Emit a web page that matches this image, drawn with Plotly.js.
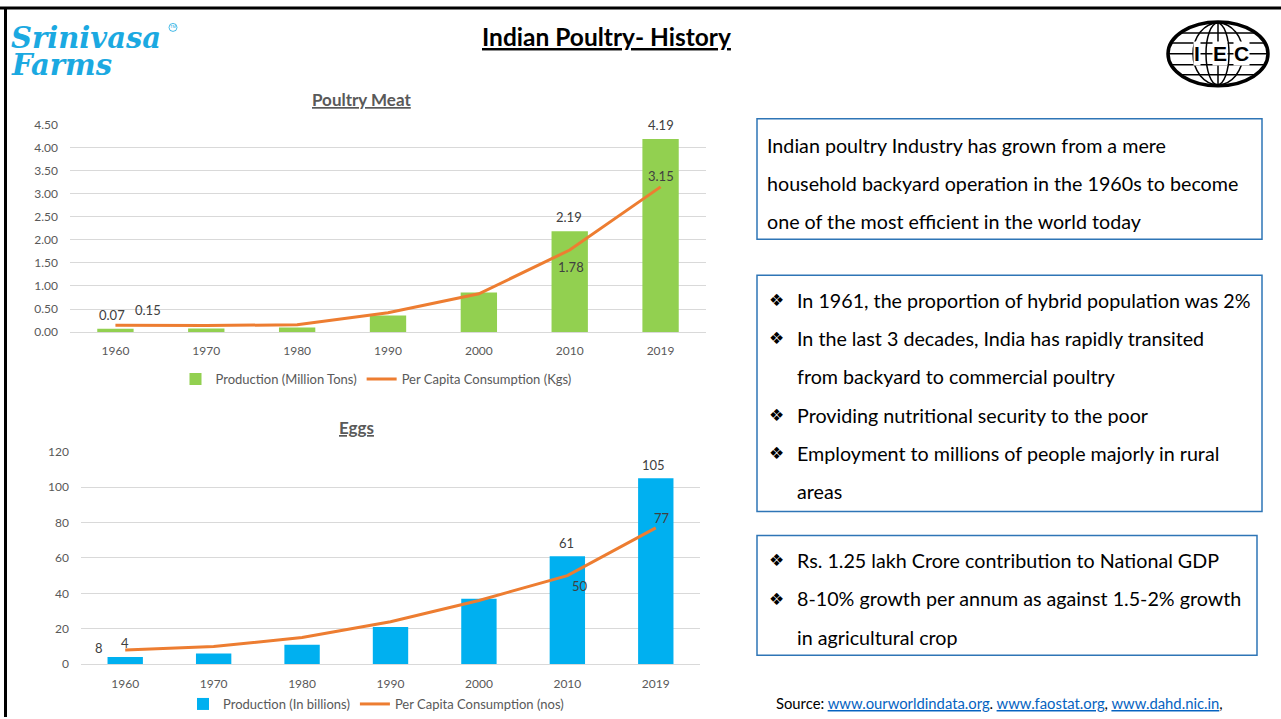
<!DOCTYPE html>
<html>
<head>
<meta charset="utf-8">
<script src="https://cdn.plot.ly/plotly-3.0.1.min.js"></script>
<style>
html,body{margin:0;padding:0;background:#fff;overflow:hidden;}
#chart{width:1281px;height:719px;}
</style>
</head>
<body>
<div id="chart"></div>
<script>
// ---------- DATA ----------
const years = ['1960','1970','1980','1990','2000','2010','2019'];
const meatProduction = [0.07, 0.08, 0.10, 0.36, 0.86, 2.19, 4.19];      // Million Tons
const meatPerCapita  = [0.15, 0.14, 0.16, 0.42, 0.83, 1.78, 3.15];      // Kgs
const eggProduction  = [4, 6, 11, 21, 37, 61, 105];                       // billions
const eggPerCapita   = [8, 10, 15, 24, 36, 50, 77];                       // nos
// which points carry a data label
const meatBarLabelIdx  = [0, 5, 6];
const meatLineLabelIdx = [0, 5, 6];
const eggBarLabelIdx   = [0, 5, 6];
const eggLineLabelIdx  = [0, 5, 6];

const meatSeriesNames = ['Production (Million Tons)', 'Per Capita Consumption (Kgs)'];
const eggSeriesNames  = ['Production (In billions)', 'Per Capita Consumption (nos)'];

const pageTitle = 'Indian Poultry- History';
const meatTitle = 'Poultry Meat';
const eggTitle  = 'Eggs';
const box1Lines = [
  'Indian poultry Industry has grown from a mere',
  'household backyard operation in the 1960s to become',
  'one of the most efficient in the world today'
];
const box2Lines = [
  ['❖', 'In 1961, the proportion of hybrid population was 2%'],
  ['❖', 'In the last 3 decades, India has rapidly transited'],
  ['',  'from backyard to commercial poultry'],
  ['❖', 'Providing nutritional security to the poor'],
  ['❖', 'Employment to millions of people majorly in rural'],
  ['',  'areas']
];
const box3Lines = [
  ['❖', 'Rs. 1.25 lakh Crore contribution to National GDP'],
  ['❖', '8-10% growth per annum as against 1.5-2% growth'],
  ['',  'in agricultural crop']
];
const sourceLinks = ['www.ourworldindata.org', 'www.faostat.org', 'www.dahd.nic.in'];

// ---------- STYLE ----------
const W = 1281, H = 719;
const px = x => x / W;
const py = y => 1 - y / H;
const FONT = 'Lato, "Open Sans", sans-serif';
const GREEN = '#92D050', BLUE = '#00B0F0', ORANGE = '#ED7D31';
const GRID = '#D9D9D9', AXTXT = '#595959', LBL = '#404040';
const BOXC = '#2E75B6';
const BODY = 19.7;

const traces = [
  {type:'bar', x: years, y: meatProduction, name: meatSeriesNames[0], marker:{color: GREEN},
   xaxis:'x', yaxis:'y', legend:'legend', hoverinfo:'skip'},
  {type:'scatter', mode:'lines', x: years, y: meatPerCapita, name: meatSeriesNames[1],
   line:{color: ORANGE, width: 3}, xaxis:'x', yaxis:'y', legend:'legend', hoverinfo:'skip'},
  {type:'bar', x: years, y: eggProduction, name: eggSeriesNames[0], marker:{color: BLUE},
   xaxis:'x2', yaxis:'y2', legend:'legend2', hoverinfo:'skip'},
  {type:'scatter', mode:'lines', x: years, y: eggPerCapita, name: eggSeriesNames[1],
   line:{color: ORANGE, width: 3}, xaxis:'x2', yaxis:'y2', legend:'legend2', hoverinfo:'skip'}
];

const ann = [];
function txt(x, y, text, opt) {
  ann.push(Object.assign({xref:'paper', yref:'paper', x: px(x), y: py(y), text: text,
    showarrow:false, xanchor:'left', yanchor:'middle',
    font:{family: FONT, size: BODY, color:'#000'}}, opt || {}));
}
// data labels from arrays (x given as category index)
function dataLabels(xa, ya, vals, idxs, fmt, shifts) {
  idxs.forEach((i, k) => {
    ann.push({xref: xa, yref: ya, x: i, y: vals[i], text: fmt(vals[i]), showarrow:false,
      xanchor:'center', yanchor:'middle', xshift: shifts[k][0], yshift: shifts[k][1],
      font:{family: FONT, size: 13, color: LBL}});
  });
}
const f2 = v => v.toFixed(2);
const f0 = v => String(Math.round(v));
dataLabels('x', 'y', meatProduction, meatBarLabelIdx, f2, [[-3,14],[-1,14],[0,14]]);
dataLabels('x', 'y', meatPerCapita, meatLineLabelIdx, f2, [[33,15],[1,-17],[0,11]]);
dataLabels('x2', 'y2', eggProduction, eggBarLabelIdx, f0, [[0,14],[-1,13],[-2,13]]);
dataLabels('x2', 'y2', eggPerCapita, eggLineLabelIdx, f0, [[-26,2],[13,-10],[6,10]]);

// titles
txt(606, 37, '<b><u>' + pageTitle + '</u></b>', {xanchor:'center', font:{family: FONT, size: 24.5, color:'#000'}});
txt(361, 100, '<b><u>' + meatTitle + '</u></b>', {xanchor:'center', font:{family: FONT, size: 17, color: AXTXT}});
txt(357, 429, '<b><u>' + eggTitle + '</u></b>', {xanchor:'center', font:{family: FONT, size: 17, color: AXTXT}});

// logo Srinivasa Farms
txt(9, 38, '<b><i>Srinivasa</i></b>', {height: 26, font:{family:'"DejaVu Serif", serif', size: 29, color:'#1BA9E1'}});
txt(9, 65, '<b><i>Farms</i></b>', {height: 26, font:{family:'"DejaVu Serif", serif', size: 29, color:'#1BA9E1'}});
txt(173, 27, 'TM', {xanchor:'center', font:{family:'Liberation Sans', size: 4, color:'#1BA9E1'}});

// text boxes
box1Lines.forEach((t, i) => txt(765, 146 + i * 38.3, t));
box2Lines.forEach((t, i) => {
  if (t[0]) txt(776, 301 + i * 38.4, t[0], {xanchor:'center', font:{family:'"DejaVu Sans"', size: 17, color:'#000'}});
  txt(795, 301 + i * 38.4, t[1]);
});
box3Lines.forEach((t, i) => {
  if (t[0]) txt(776, 562 + i * 38.5, t[0], {xanchor:'center', font:{family:'"DejaVu Sans"', size: 17, color:'#000'}});
  txt(795, 562 + i * 38.5, t[1]);
});
// source
const link = s => "<span style='color:#0563C1'><u>" + s + "</u></span>";
txt(774, 705, 'Source: ' + link(sourceLinks[0]) + '. ' + link(sourceLinks[1]) + ', ' + link(sourceLinks[2]) + ',',
  {font:{family: FONT, size: 14.8, color:'#000'}});

// IEC logo letters
[['I',1197],['E',1220],['C',1241]].forEach(l => {
  txt(l[1], 54, '<b>' + l[0] + '</b>', {xanchor:'center', bgcolor:'#fff', borderpad:0,
    font:{family:'"Liberation Sans", Arial', size: 21, color:'#000'}});
});

const shapes = [];
function line(x0, y0, x1, y1, color, width) {
  shapes.push({type:'line', xref:'paper', yref:'paper', x0: px(x0), y0: py(y0), x1: px(x1), y1: py(y1),
    line:{color: color, width: width}, layer:'below'});
}
function rect(x0, y0, x1, y1, color, width, fill) {
  shapes.push({type:'rect', xref:'paper', yref:'paper', x0: px(x0), y0: py(y0), x1: px(x1), y1: py(y1),
    line:{color: color, width: width}, fillcolor: fill || 'rgba(0,0,0,0)', layer:'below'});
}
function ell(x0, y0, x1, y1, color, width) {
  shapes.push({type:'circle', xref:'paper', yref:'paper', x0: px(x0), y0: py(y0), x1: px(x1), y1: py(y1),
    line:{color: color, width: width}, layer:'below'});
}
// page frame
line(0, 8, W, 8, '#000', 3);
line(5.5, 7, 5.5, H, '#000', 3);
// text boxes
rect(757, 119, 1262, 240, BOXC, 1.5);
rect(757, 276, 1262, 513, BOXC, 1.5);
rect(757, 537, 1257, 657, BOXC, 1.5);
// TM mark circle
ell(169, 23.5, 177, 31.5, '#1BA9E1', 0.8);
// IEC globe
ell(1168, 22, 1268, 86, '#000', 3.5);
ell(1193, 23, 1243, 85, '#000', 1.5);
ell(1206, 23, 1229, 85, '#000', 1.5);
line(1218, 23, 1218, 85, '#000', 1.5);
[[33,37.7],[43,46.9],[54,50],[65,46.9],[75,37.7]].forEach(h => line(1218 - h[1], h[0], 1218 + h[1], h[0], '#000', 1.5));

const axisCommon = {
  type:'category', range:[-0.5, years.length - 0.5], autorange:false,
  showgrid:false, zeroline:false, showline:true, linecolor: GRID, linewidth:1,
  ticks:'', tickfont:{family: FONT, size: 12, color: AXTXT}, ticklabelstandoff: 8, fixedrange:true
};
const yCommon = {
  showgrid:true, gridcolor: GRID, gridwidth:1, zeroline:false, showline:false, ticks:'', autorange:false,
  tickfont:{family: FONT, size: 12, color: AXTXT}, ticklabelstandoff: 11, fixedrange:true
};

const layout = {
  width: W, height: H, margin:{l:0, r:0, t:0, b:0},
  paper_bgcolor:'#fff', plot_bgcolor:'rgba(0,0,0,0)',
  showlegend:true, barmode:'group', bargap:0.6,
  font:{family: FONT},
  xaxis: Object.assign({}, axisCommon, {domain:[px(70), px(706)], anchor:'y'}),
  yaxis: Object.assign({}, yCommon, {domain:[py(333), py(125)], range:[0, 4.5], dtick:0.5, tickformat:'.2f', anchor:'x'}),
  xaxis2: Object.assign({}, axisCommon, {domain:[px(81), px(700)], anchor:'y2'}),
  yaxis2: Object.assign({}, yCommon, {domain:[py(666), py(453)], range:[0, 120], dtick:20, anchor:'x2'}),
  legend: {orientation:'h', x: px(376), y: py(380), xanchor:'center', yanchor:'middle',
    bgcolor:'rgba(0,0,0,0)', font:{family: FONT, size: 13, color: AXTXT}},
  legend2: {orientation:'h', x: px(376), y: py(706), xanchor:'center', yanchor:'middle',
    bgcolor:'rgba(0,0,0,0)', font:{family: FONT, size: 13, color: AXTXT}},
  annotations: ann,
  shapes: shapes
};

Plotly.newPlot('chart', traces, layout, {staticPlot:true, displayModeBar:false});
</script>
</body>
</html>
